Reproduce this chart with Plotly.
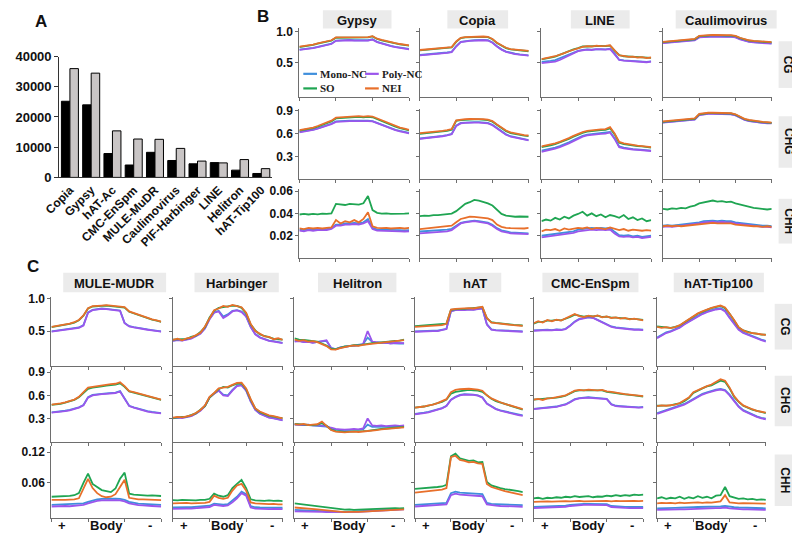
import plotly.graph_objects as go

# ---------------- DATA ----------------
# Panel A
TE_FAMILIES = ["Copia", "Gypsy", "hAT-Ac", "CMC-EnSpm", "MULE-MuDR", "Caulimovirus",
               "PIF-Harbinger", "LINE", "Helitron", "hAT-Tip100"]
COUNT_BLACK = [25200, 24000, 7900, 4100, 8300, 5600, 4500, 4900, 2400, 1300]
COUNT_GREY = [36000, 34500, 15400, 12700, 12600, 9600, 5400, 4800, 5900, 2900]

# profile bins (0-8 upstream "+", 8-16 body, 16-24 downstream "-")
BINS = [0, 1, 2, 3, 4, 5, 6, 7, 8, 9, 10, 11, 12, 13, 14, 15, 16, 17, 18, 19, 20, 21, 22, 23, 24]
SERIES = ["Mono-NC", "Poly-NC", "SO", "NEI"]
CONTEXTS = ["CG", "CHG", "CHH"]
B_FAMILIES = ["Gypsy", "Copia", "LINE", "Caulimovirus"]
C_FAMILIES = ["MULE-MUDR", "Harbinger", "Helitron", "hAT", "CMC-EnSpm", "hAT-Tip100"]
X_LABELS = ["+", "Body", "-"]

# ---- Gypsy
GYPSY_CG_MONO = [0.711,0.717,0.727,0.740,0.755,0.770,0.790,0.805,0.855,0.860,0.860,0.865,0.860,0.865,0.860,0.860,0.875,0.835,0.810,0.790,0.770,0.755,0.740,0.730,0.721]
GYPSY_CG_POLY = [0.706,0.712,0.722,0.735,0.750,0.765,0.785,0.800,0.850,0.855,0.855,0.860,0.855,0.860,0.855,0.855,0.870,0.830,0.805,0.785,0.765,0.750,0.735,0.725,0.716]
GYPSY_CG_SO = [0.752,0.760,0.773,0.785,0.805,0.820,0.840,0.855,0.900,0.900,0.905,0.900,0.905,0.900,0.905,0.905,0.920,0.880,0.860,0.840,0.825,0.810,0.795,0.785,0.775]
GYPSY_CG_NEI = [0.757,0.765,0.778,0.790,0.810,0.825,0.845,0.860,0.905,0.905,0.910,0.905,0.910,0.905,0.910,0.910,0.925,0.885,0.865,0.845,0.830,0.815,0.800,0.790,0.780]
GYPSY_CHG_MONO = [0.622,0.630,0.640,0.653,0.670,0.687,0.710,0.730,0.760,0.765,0.770,0.770,0.770,0.773,0.770,0.770,0.765,0.740,0.715,0.690,0.670,0.650,0.635,0.620,0.609]
GYPSY_CHG_POLY = [0.617,0.625,0.635,0.648,0.665,0.682,0.705,0.725,0.755,0.760,0.765,0.765,0.765,0.768,0.765,0.765,0.760,0.735,0.710,0.685,0.665,0.645,0.630,0.615,0.604]
GYPSY_CHG_SO = [0.640,0.648,0.660,0.672,0.690,0.710,0.735,0.760,0.800,0.805,0.810,0.815,0.815,0.820,0.815,0.820,0.815,0.790,0.765,0.735,0.710,0.690,0.672,0.657,0.643]
GYPSY_CHG_NEI = [0.646,0.655,0.668,0.680,0.700,0.720,0.745,0.770,0.810,0.815,0.820,0.825,0.825,0.830,0.825,0.830,0.825,0.800,0.775,0.745,0.720,0.700,0.680,0.665,0.650]
GYPSY_CHH_MONO = [0.0255,0.0250,0.0260,0.0255,0.0260,0.0258,0.0260,0.0270,0.0300,0.0300,0.0310,0.0310,0.0315,0.0310,0.0320,0.0350,0.0270,0.0255,0.0255,0.0250,0.0250,0.0252,0.0250,0.0248,0.0250]
GYPSY_CHH_POLY = [0.0245,0.0240,0.0250,0.0245,0.0250,0.0248,0.0250,0.0260,0.0290,0.0290,0.0300,0.0300,0.0305,0.0300,0.0310,0.0330,0.0260,0.0245,0.0245,0.0240,0.0240,0.0242,0.0240,0.0238,0.0240]
GYPSY_CHH_SO = [0.0390,0.0395,0.0390,0.0395,0.0392,0.0398,0.0395,0.0400,0.0485,0.0480,0.0475,0.0485,0.0480,0.0478,0.0490,0.0555,0.0430,0.0405,0.0398,0.0400,0.0395,0.0398,0.0395,0.0398,0.0400]
GYPSY_CHH_NEI = [0.0265,0.0260,0.0270,0.0265,0.0270,0.0265,0.0270,0.0275,0.0340,0.0310,0.0330,0.0320,0.0340,0.0320,0.0350,0.0410,0.0285,0.0270,0.0268,0.0270,0.0265,0.0268,0.0270,0.0265,0.0270]
# ---- Copia
COPIA_CG_MONO = [0.625,0.630,0.635,0.645,0.650,0.655,0.665,0.675,0.765,0.835,0.850,0.855,0.860,0.865,0.865,0.860,0.825,0.765,0.715,0.680,0.660,0.645,0.635,0.625,0.620]
COPIA_CG_POLY = [0.620,0.625,0.630,0.640,0.645,0.650,0.660,0.670,0.760,0.830,0.845,0.850,0.855,0.860,0.860,0.855,0.820,0.760,0.710,0.675,0.655,0.640,0.630,0.620,0.615]
COPIA_CG_SO = [0.700,0.705,0.710,0.715,0.720,0.725,0.730,0.745,0.835,0.895,0.905,0.910,0.915,0.915,0.915,0.910,0.875,0.815,0.770,0.735,0.715,0.705,0.695,0.690,0.685]
COPIA_CG_NEI = [0.705,0.710,0.715,0.720,0.725,0.730,0.735,0.750,0.840,0.900,0.910,0.915,0.920,0.920,0.920,0.915,0.880,0.820,0.775,0.740,0.720,0.710,0.700,0.695,0.690]
COPIA_CHG_MONO = [0.535,0.540,0.545,0.553,0.560,0.570,0.580,0.595,0.705,0.740,0.745,0.750,0.750,0.750,0.745,0.740,0.715,0.670,0.625,0.590,0.565,0.550,0.535,0.525,0.515]
COPIA_CHG_POLY = [0.530,0.535,0.540,0.548,0.555,0.565,0.575,0.590,0.700,0.735,0.740,0.745,0.745,0.745,0.740,0.735,0.710,0.665,0.620,0.585,0.560,0.545,0.530,0.520,0.510]
COPIA_CHG_SO = [0.597,0.602,0.607,0.612,0.622,0.627,0.637,0.652,0.767,0.777,0.782,0.787,0.787,0.787,0.782,0.777,0.757,0.712,0.672,0.632,0.607,0.592,0.582,0.572,0.567]
COPIA_CHG_NEI = [0.605,0.610,0.615,0.620,0.630,0.635,0.645,0.660,0.775,0.785,0.790,0.795,0.795,0.795,0.790,0.785,0.765,0.720,0.680,0.640,0.615,0.600,0.590,0.580,0.575]
COPIA_CHH_MONO = [0.0238,0.0240,0.0242,0.0245,0.0245,0.0250,0.0255,0.0262,0.0290,0.0315,0.0325,0.0330,0.0335,0.0330,0.0325,0.0318,0.0298,0.0268,0.0248,0.0238,0.0230,0.0228,0.0225,0.0225,0.0222]
COPIA_CHH_POLY = [0.0222,0.0225,0.0228,0.0230,0.0232,0.0235,0.0240,0.0250,0.0280,0.0310,0.0320,0.0325,0.0330,0.0325,0.0320,0.0310,0.0290,0.0260,0.0240,0.0230,0.0222,0.0220,0.0218,0.0215,0.0215]
COPIA_CHH_SO = [0.0375,0.0380,0.0378,0.0385,0.0385,0.0390,0.0392,0.0398,0.0420,0.0450,0.0485,0.0500,0.0520,0.0515,0.0505,0.0490,0.0470,0.0430,0.0395,0.0380,0.0375,0.0370,0.0372,0.0368,0.0370]
COPIA_CHH_NEI = [0.0260,0.0265,0.0270,0.0270,0.0275,0.0280,0.0285,0.0290,0.0320,0.0350,0.0360,0.0370,0.0368,0.0365,0.0360,0.0355,0.0340,0.0300,0.0280,0.0270,0.0268,0.0265,0.0268,0.0265,0.0270]
# ---- LINE
LINE_CG_MONO = [0.515,0.520,0.530,0.545,0.575,0.610,0.640,0.665,0.690,0.705,0.715,0.710,0.720,0.720,0.715,0.725,0.650,0.550,0.540,0.535,0.530,0.525,0.530,0.515,0.525]
LINE_CG_POLY = [0.495,0.500,0.510,0.520,0.545,0.580,0.620,0.650,0.685,0.700,0.710,0.705,0.720,0.715,0.710,0.720,0.640,0.545,0.535,0.530,0.525,0.520,0.525,0.510,0.520]
LINE_CG_SO = [0.555,0.575,0.585,0.600,0.630,0.650,0.680,0.715,0.735,0.760,0.760,0.765,0.770,0.770,0.765,0.775,0.695,0.625,0.605,0.600,0.595,0.590,0.585,0.580,0.580]
LINE_CG_NEI = [0.560,0.570,0.590,0.605,0.625,0.655,0.685,0.710,0.740,0.755,0.765,0.760,0.775,0.765,0.770,0.780,0.700,0.620,0.610,0.595,0.600,0.585,0.590,0.575,0.585]
LINE_CHG_MONO = [0.375,0.385,0.395,0.415,0.435,0.455,0.485,0.515,0.545,0.570,0.585,0.590,0.595,0.600,0.605,0.620,0.540,0.430,0.415,0.400,0.395,0.390,0.385,0.380,0.375]
LINE_CHG_POLY = [0.360,0.370,0.380,0.400,0.420,0.440,0.470,0.500,0.530,0.560,0.575,0.585,0.590,0.595,0.600,0.615,0.530,0.420,0.405,0.395,0.390,0.385,0.380,0.375,0.370]
LINE_CHG_SO = [0.420,0.430,0.445,0.460,0.480,0.505,0.530,0.560,0.590,0.610,0.625,0.635,0.640,0.645,0.650,0.670,0.590,0.480,0.460,0.450,0.440,0.435,0.430,0.420,0.415]
LINE_CHG_NEI = [0.430,0.440,0.450,0.470,0.490,0.510,0.540,0.570,0.600,0.620,0.635,0.645,0.650,0.655,0.660,0.685,0.600,0.490,0.470,0.455,0.450,0.440,0.435,0.430,0.420]
LINE_CHH_MONO = [0.0200,0.0205,0.0210,0.0215,0.0220,0.0225,0.0235,0.0240,0.0255,0.0260,0.0265,0.0270,0.0265,0.0270,0.0265,0.0270,0.0235,0.0205,0.0200,0.0205,0.0195,0.0200,0.0190,0.0195,0.0200]
LINE_CHH_POLY = [0.0185,0.0190,0.0195,0.0200,0.0205,0.0210,0.0220,0.0225,0.0240,0.0245,0.0250,0.0255,0.0250,0.0255,0.0250,0.0255,0.0220,0.0195,0.0190,0.0195,0.0185,0.0190,0.0180,0.0185,0.0190]
LINE_CHH_SO = [0.0330,0.0345,0.0335,0.0360,0.0345,0.0370,0.0355,0.0380,0.0395,0.0415,0.0380,0.0400,0.0375,0.0390,0.0365,0.0385,0.0375,0.0360,0.0385,0.0350,0.0365,0.0340,0.0355,0.0330,0.0340]
LINE_CHH_NEI = [0.0240,0.0255,0.0250,0.0260,0.0245,0.0265,0.0255,0.0260,0.0270,0.0265,0.0275,0.0260,0.0270,0.0265,0.0260,0.0275,0.0265,0.0250,0.0260,0.0245,0.0255,0.0250,0.0245,0.0250,0.0245]
# ---- Caulimovirus
CAUL_CG_MONO = [0.820,0.825,0.830,0.835,0.840,0.845,0.855,0.865,0.910,0.920,0.920,0.925,0.920,0.925,0.920,0.920,0.910,0.880,0.855,0.840,0.830,0.825,0.820,0.815,0.810]
CAUL_CG_POLY = [0.815,0.820,0.825,0.830,0.835,0.840,0.850,0.860,0.905,0.915,0.915,0.920,0.915,0.920,0.915,0.915,0.905,0.875,0.850,0.835,0.825,0.820,0.815,0.810,0.805]
CAUL_CG_SO = [0.830,0.835,0.840,0.845,0.850,0.855,0.865,0.875,0.925,0.935,0.935,0.940,0.935,0.940,0.935,0.935,0.925,0.895,0.870,0.855,0.845,0.840,0.835,0.830,0.825]
CAUL_CG_NEI = [0.835,0.840,0.845,0.850,0.855,0.860,0.870,0.880,0.930,0.940,0.940,0.945,0.940,0.945,0.940,0.940,0.930,0.900,0.875,0.860,0.850,0.845,0.840,0.835,0.830]
CAUL_CHG_MONO = [0.748,0.753,0.758,0.763,0.768,0.773,0.778,0.788,0.848,0.858,0.863,0.863,0.863,0.863,0.858,0.858,0.843,0.808,0.783,0.768,0.758,0.748,0.743,0.738,0.738]
CAUL_CHG_POLY = [0.745,0.750,0.755,0.760,0.765,0.770,0.775,0.785,0.845,0.855,0.860,0.860,0.860,0.860,0.855,0.855,0.840,0.805,0.780,0.765,0.755,0.745,0.740,0.735,0.735]
CAUL_CHG_SO = [0.755,0.760,0.765,0.770,0.775,0.780,0.785,0.795,0.855,0.865,0.870,0.870,0.870,0.870,0.865,0.865,0.850,0.815,0.790,0.775,0.765,0.755,0.750,0.745,0.740]
CAUL_CHG_NEI = [0.760,0.765,0.770,0.775,0.780,0.785,0.790,0.800,0.860,0.870,0.875,0.875,0.875,0.875,0.870,0.870,0.855,0.820,0.795,0.780,0.770,0.760,0.755,0.750,0.745]
CAUL_CHH_MONO = [0.0290,0.0295,0.0290,0.0295,0.0300,0.0300,0.0305,0.0310,0.0320,0.0330,0.0335,0.0335,0.0330,0.0335,0.0330,0.0330,0.0320,0.0315,0.0305,0.0300,0.0295,0.0295,0.0290,0.0290,0.0285]
CAUL_CHH_POLY = [0.0280,0.0285,0.0280,0.0285,0.0290,0.0290,0.0295,0.0300,0.0310,0.0320,0.0325,0.0325,0.0320,0.0325,0.0320,0.0320,0.0310,0.0305,0.0295,0.0290,0.0285,0.0285,0.0280,0.0280,0.0275]
CAUL_CHH_SO = [0.0440,0.0435,0.0445,0.0440,0.0450,0.0445,0.0460,0.0470,0.0490,0.0500,0.0510,0.0515,0.0505,0.0510,0.0500,0.0505,0.0490,0.0480,0.0465,0.0460,0.0450,0.0445,0.0440,0.0435,0.0440]
CAUL_CHH_NEI = [0.0285,0.0290,0.0285,0.0290,0.0285,0.0290,0.0295,0.0295,0.0300,0.0310,0.0310,0.0315,0.0310,0.0310,0.0305,0.0310,0.0300,0.0295,0.0290,0.0290,0.0285,0.0285,0.0280,0.0285,0.0280]
# ---- MULE-MUDR
MULE_CG_MONO = [0.495,0.505,0.510,0.515,0.525,0.535,0.555,0.590,0.785,0.825,0.840,0.845,0.840,0.835,0.825,0.815,0.625,0.575,0.560,0.545,0.535,0.525,0.515,0.505,0.495]
MULE_CG_POLY = [0.490,0.500,0.505,0.510,0.520,0.530,0.550,0.585,0.780,0.820,0.835,0.840,0.835,0.830,0.820,0.810,0.620,0.570,0.555,0.540,0.530,0.520,0.510,0.500,0.490]
MULE_CG_SO = [0.560,0.570,0.585,0.595,0.610,0.630,0.665,0.735,0.845,0.875,0.885,0.885,0.890,0.885,0.880,0.875,0.860,0.795,0.770,0.740,0.715,0.695,0.675,0.660,0.640]
MULE_CG_NEI = [0.565,0.575,0.590,0.600,0.615,0.635,0.670,0.740,0.850,0.880,0.890,0.890,0.895,0.890,0.885,0.880,0.865,0.800,0.775,0.745,0.720,0.700,0.680,0.665,0.645]
MULE_CHG_MONO = [0.380,0.385,0.390,0.400,0.410,0.425,0.445,0.475,0.575,0.605,0.615,0.620,0.625,0.630,0.635,0.655,0.555,0.465,0.445,0.425,0.405,0.395,0.385,0.375,0.370]
MULE_CHG_POLY = [0.375,0.380,0.385,0.395,0.405,0.420,0.440,0.470,0.570,0.600,0.610,0.615,0.620,0.625,0.630,0.650,0.550,0.460,0.440,0.420,0.400,0.390,0.380,0.370,0.365]
MULE_CHG_SO = [0.475,0.480,0.490,0.505,0.520,0.540,0.575,0.630,0.685,0.700,0.705,0.715,0.725,0.730,0.740,0.755,0.710,0.650,0.635,0.620,0.600,0.585,0.570,0.555,0.540]
MULE_CHG_NEI = [0.480,0.485,0.495,0.510,0.525,0.545,0.580,0.640,0.700,0.710,0.720,0.730,0.740,0.745,0.750,0.770,0.720,0.655,0.640,0.625,0.610,0.590,0.575,0.560,0.545]
MULE_CHH_MONO = [0.0170,0.0175,0.0170,0.0180,0.0175,0.0185,0.0190,0.0200,0.0230,0.0260,0.0280,0.0290,0.0295,0.0300,0.0295,0.0290,0.0270,0.0230,0.0210,0.0195,0.0190,0.0180,0.0180,0.0175,0.0170]
MULE_CHH_POLY = [0.0140,0.0145,0.0140,0.0150,0.0145,0.0155,0.0160,0.0170,0.0200,0.0230,0.0250,0.0260,0.0265,0.0270,0.0265,0.0260,0.0240,0.0200,0.0180,0.0165,0.0160,0.0150,0.0150,0.0145,0.0140]
MULE_CHH_SO = [0.0330,0.0335,0.0330,0.0340,0.0345,0.0360,0.0400,0.0600,0.0780,0.0580,0.0520,0.0460,0.0440,0.0420,0.0490,0.0680,0.0800,0.0390,0.0370,0.0360,0.0355,0.0350,0.0355,0.0350,0.0345]
MULE_CHH_NEI = [0.0270,0.0265,0.0270,0.0270,0.0275,0.0280,0.0300,0.0480,0.0680,0.0500,0.0400,0.0340,0.0320,0.0330,0.0380,0.0520,0.0660,0.0310,0.0290,0.0280,0.0280,0.0275,0.0270,0.0270,0.0265]
# ---- Harbinger
HARB_CG_MONO = [0.355,0.365,0.360,0.375,0.390,0.425,0.465,0.545,0.685,0.785,0.810,0.720,0.755,0.810,0.820,0.800,0.730,0.565,0.455,0.405,0.375,0.355,0.345,0.335,0.320]
HARB_CG_POLY = [0.350,0.360,0.355,0.370,0.385,0.420,0.460,0.540,0.680,0.780,0.800,0.700,0.740,0.800,0.815,0.790,0.720,0.560,0.450,0.400,0.370,0.350,0.340,0.330,0.315]
HARB_CG_SO = [0.370,0.375,0.370,0.380,0.410,0.430,0.485,0.560,0.710,0.810,0.855,0.870,0.880,0.890,0.885,0.855,0.770,0.600,0.510,0.450,0.425,0.400,0.385,0.375,0.370]
HARB_CG_NEI = [0.365,0.385,0.360,0.390,0.400,0.440,0.475,0.570,0.700,0.820,0.845,0.885,0.870,0.900,0.880,0.865,0.780,0.610,0.500,0.460,0.420,0.410,0.375,0.390,0.365]
HARB_CHG_MONO = [0.305,0.315,0.310,0.325,0.335,0.365,0.405,0.465,0.575,0.625,0.665,0.610,0.600,0.670,0.725,0.735,0.665,0.525,0.415,0.365,0.335,0.315,0.305,0.295,0.280]
HARB_CHG_POLY = [0.300,0.310,0.305,0.320,0.330,0.360,0.400,0.460,0.570,0.620,0.660,0.600,0.590,0.660,0.720,0.730,0.660,0.520,0.410,0.360,0.330,0.310,0.300,0.290,0.275]
HARB_CHG_SO = [0.305,0.315,0.320,0.325,0.345,0.365,0.415,0.460,0.570,0.620,0.680,0.710,0.700,0.730,0.750,0.755,0.680,0.540,0.430,0.380,0.355,0.335,0.325,0.310,0.305]
HARB_CHG_NEI = [0.310,0.320,0.315,0.330,0.340,0.370,0.410,0.470,0.580,0.630,0.690,0.700,0.710,0.735,0.760,0.765,0.690,0.550,0.430,0.390,0.360,0.340,0.330,0.315,0.300]
HARB_CHH_MONO = [0.0120,0.0125,0.0120,0.0125,0.0125,0.0130,0.0135,0.0140,0.0155,0.0195,0.0185,0.0175,0.0185,0.0250,0.0330,0.0430,0.0380,0.0145,0.0125,0.0120,0.0120,0.0115,0.0120,0.0115,0.0115]
HARB_CHH_POLY = [0.0095,0.0100,0.0095,0.0100,0.0100,0.0105,0.0110,0.0115,0.0130,0.0170,0.0160,0.0150,0.0160,0.0220,0.0300,0.0400,0.0350,0.0120,0.0100,0.0095,0.0095,0.0090,0.0095,0.0090,0.0090]
HARB_CHH_SO = [0.0265,0.0260,0.0270,0.0265,0.0270,0.0260,0.0270,0.0270,0.0290,0.0390,0.0350,0.0330,0.0360,0.0500,0.0580,0.0660,0.0500,0.0280,0.0260,0.0255,0.0250,0.0260,0.0250,0.0255,0.0245]
HARB_CHH_NEI = [0.0200,0.0205,0.0200,0.0210,0.0200,0.0205,0.0210,0.0210,0.0230,0.0350,0.0310,0.0290,0.0310,0.0450,0.0550,0.0580,0.0450,0.0220,0.0200,0.0190,0.0190,0.0185,0.0190,0.0180,0.0180]
# ---- Helitron
HELI_CG_MONO = [0.345,0.350,0.335,0.340,0.325,0.335,0.345,0.350,0.245,0.225,0.250,0.265,0.275,0.280,0.285,0.300,0.400,0.335,0.325,0.320,0.320,0.315,0.315,0.310,0.310]
HELI_CG_POLY = [0.340,0.345,0.330,0.335,0.320,0.330,0.350,0.360,0.240,0.220,0.245,0.260,0.270,0.275,0.280,0.300,0.500,0.340,0.330,0.320,0.325,0.310,0.320,0.315,0.315]
HELI_CG_SO = [0.390,0.370,0.365,0.355,0.350,0.340,0.310,0.280,0.230,0.225,0.245,0.265,0.270,0.285,0.280,0.295,0.305,0.315,0.320,0.330,0.340,0.345,0.350,0.355,0.370]
HELI_CG_NEI = [0.370,0.350,0.360,0.340,0.345,0.330,0.300,0.270,0.220,0.215,0.240,0.260,0.270,0.280,0.275,0.290,0.300,0.310,0.320,0.325,0.335,0.340,0.345,0.350,0.360]
HELI_CHG_MONO = [0.220,0.215,0.215,0.215,0.210,0.210,0.205,0.195,0.170,0.155,0.150,0.150,0.155,0.155,0.155,0.160,0.220,0.190,0.190,0.190,0.190,0.195,0.195,0.195,0.200]
HELI_CHG_POLY = [0.225,0.220,0.215,0.220,0.210,0.215,0.210,0.200,0.180,0.165,0.160,0.155,0.160,0.165,0.160,0.170,0.300,0.210,0.205,0.210,0.200,0.205,0.210,0.205,0.210]
HELI_CHG_SO = [0.230,0.225,0.220,0.220,0.215,0.220,0.240,0.205,0.155,0.135,0.130,0.125,0.130,0.130,0.130,0.135,0.140,0.150,0.155,0.165,0.170,0.175,0.180,0.185,0.190]
HELI_CHG_NEI = [0.225,0.220,0.230,0.215,0.220,0.225,0.260,0.210,0.150,0.130,0.125,0.120,0.125,0.130,0.125,0.130,0.135,0.145,0.150,0.160,0.165,0.170,0.175,0.180,0.185]
HELI_CHH_MONO = [0.0075,0.0070,0.0065,0.0060,0.0060,0.0055,0.0050,0.0045,0.0040,0.0035,0.0035,0.0035,0.0040,0.0040,0.0045,0.0050,0.0055,0.0060,0.0065,0.0070,0.0075,0.0080,0.0085,0.0090,0.0095]
HELI_CHH_POLY = [0.0045,0.0045,0.0040,0.0040,0.0035,0.0035,0.0035,0.0030,0.0030,0.0025,0.0025,0.0025,0.0030,0.0030,0.0035,0.0040,0.0045,0.0050,0.0055,0.0060,0.0065,0.0070,0.0075,0.0080,0.0085]
HELI_CHH_SO = [0.0200,0.0190,0.0180,0.0170,0.0155,0.0140,0.0130,0.0120,0.0110,0.0095,0.0090,0.0080,0.0085,0.0075,0.0080,0.0085,0.0090,0.0095,0.0100,0.0095,0.0100,0.0105,0.0110,0.0105,0.0110]
HELI_CHH_NEI = [0.0120,0.0115,0.0110,0.0100,0.0095,0.0085,0.0075,0.0065,0.0050,0.0040,0.0035,0.0030,0.0035,0.0030,0.0035,0.0040,0.0045,0.0050,0.0055,0.0060,0.0065,0.0070,0.0075,0.0080,0.0085]
# ---- hAT
HAT_CG_MONO = [0.495,0.500,0.495,0.500,0.505,0.505,0.515,0.535,0.805,0.825,0.830,0.825,0.835,0.830,0.840,0.850,0.605,0.525,0.515,0.510,0.505,0.505,0.500,0.500,0.495]
HAT_CG_POLY = [0.490,0.495,0.490,0.495,0.500,0.500,0.510,0.530,0.800,0.820,0.825,0.820,0.830,0.825,0.835,0.845,0.600,0.520,0.510,0.505,0.500,0.500,0.495,0.495,0.490]
HAT_CG_SO = [0.575,0.580,0.585,0.585,0.590,0.595,0.600,0.615,0.825,0.835,0.840,0.840,0.845,0.845,0.850,0.865,0.695,0.635,0.625,0.615,0.605,0.600,0.595,0.590,0.585]
HAT_CG_NEI = [0.565,0.570,0.575,0.575,0.580,0.585,0.590,0.610,0.830,0.840,0.845,0.840,0.850,0.845,0.855,0.870,0.700,0.630,0.620,0.610,0.600,0.595,0.590,0.585,0.580]
HAT_CHG_MONO = [0.360,0.365,0.375,0.385,0.400,0.415,0.435,0.465,0.545,0.580,0.605,0.615,0.615,0.610,0.600,0.575,0.495,0.455,0.425,0.405,0.390,0.375,0.360,0.350,0.340]
HAT_CHG_POLY = [0.355,0.360,0.370,0.380,0.395,0.410,0.430,0.460,0.540,0.575,0.600,0.610,0.610,0.605,0.595,0.570,0.490,0.450,0.420,0.400,0.385,0.370,0.355,0.345,0.335]
HAT_CHG_SO = [0.440,0.445,0.455,0.465,0.480,0.495,0.515,0.545,0.620,0.645,0.655,0.665,0.670,0.665,0.660,0.645,0.595,0.555,0.525,0.505,0.485,0.465,0.450,0.435,0.415]
HAT_CHG_NEI = [0.440,0.445,0.455,0.470,0.480,0.500,0.520,0.550,0.640,0.670,0.680,0.685,0.685,0.680,0.675,0.660,0.600,0.560,0.530,0.510,0.490,0.470,0.455,0.440,0.420]
HAT_CHH_MONO = [0.0170,0.0175,0.0180,0.0180,0.0185,0.0190,0.0200,0.0210,0.0400,0.0430,0.0410,0.0405,0.0400,0.0395,0.0390,0.0380,0.0210,0.0190,0.0185,0.0180,0.0180,0.0175,0.0170,0.0170,0.0165]
HAT_CHH_POLY = [0.0140,0.0145,0.0150,0.0150,0.0155,0.0160,0.0170,0.0180,0.0360,0.0390,0.0370,0.0365,0.0360,0.0355,0.0350,0.0340,0.0180,0.0160,0.0155,0.0150,0.0150,0.0145,0.0140,0.0140,0.0135]
HAT_CHH_SO = [0.0485,0.0490,0.0500,0.0500,0.0510,0.0520,0.0530,0.0560,0.1120,0.1170,0.1080,0.1060,0.1030,0.1040,0.1000,0.1010,0.0620,0.0550,0.0520,0.0500,0.0480,0.0470,0.0450,0.0440,0.0420]
HAT_CHH_NEI = [0.0410,0.0420,0.0425,0.0435,0.0440,0.0450,0.0470,0.0500,0.1100,0.1130,0.1050,0.1030,0.1000,0.1010,0.0980,0.0970,0.0580,0.0520,0.0490,0.0460,0.0440,0.0420,0.0400,0.0380,0.0360]
# ---- CMC-EnSpm
CMC_CG_MONO = [0.510,0.515,0.510,0.520,0.515,0.525,0.520,0.535,0.585,0.645,0.685,0.705,0.715,0.705,0.670,0.635,0.595,0.570,0.555,0.545,0.540,0.530,0.525,0.525,0.520]
CMC_CG_POLY = [0.505,0.510,0.505,0.515,0.510,0.520,0.515,0.530,0.580,0.640,0.680,0.700,0.710,0.700,0.665,0.630,0.590,0.565,0.550,0.540,0.535,0.525,0.520,0.520,0.515]
CMC_CG_SO = [0.615,0.640,0.640,0.660,0.660,0.670,0.665,0.685,0.715,0.750,0.735,0.720,0.730,0.725,0.735,0.715,0.720,0.705,0.705,0.695,0.695,0.685,0.685,0.675,0.670]
CMC_CG_NEI = [0.620,0.650,0.630,0.670,0.650,0.675,0.660,0.690,0.720,0.760,0.730,0.715,0.735,0.720,0.740,0.710,0.725,0.700,0.710,0.690,0.700,0.680,0.690,0.675,0.665]
CMC_CHG_MONO = [0.425,0.430,0.435,0.440,0.445,0.455,0.470,0.485,0.515,0.550,0.565,0.570,0.575,0.570,0.565,0.565,0.555,0.485,0.465,0.460,0.455,0.450,0.445,0.445,0.450]
CMC_CHG_POLY = [0.420,0.425,0.430,0.435,0.440,0.450,0.465,0.480,0.510,0.545,0.560,0.565,0.570,0.565,0.560,0.560,0.550,0.480,0.460,0.455,0.450,0.445,0.440,0.440,0.445]
CMC_CHG_SO = [0.545,0.550,0.550,0.555,0.565,0.570,0.580,0.595,0.625,0.655,0.665,0.665,0.670,0.665,0.665,0.665,0.645,0.640,0.630,0.620,0.610,0.605,0.600,0.590,0.585]
CMC_CHG_NEI = [0.545,0.555,0.540,0.560,0.565,0.575,0.585,0.600,0.630,0.660,0.670,0.665,0.675,0.670,0.665,0.670,0.650,0.645,0.630,0.625,0.615,0.610,0.600,0.595,0.590]
CMC_CHH_MONO = [0.0130,0.0133,0.0135,0.0140,0.0140,0.0145,0.0150,0.0155,0.0170,0.0180,0.0185,0.0190,0.0190,0.0188,0.0185,0.0190,0.0185,0.0150,0.0140,0.0135,0.0132,0.0130,0.0130,0.0128,0.0130]
CMC_CHH_POLY = [0.0110,0.0112,0.0115,0.0120,0.0120,0.0125,0.0130,0.0135,0.0150,0.0160,0.0165,0.0170,0.0170,0.0168,0.0165,0.0170,0.0165,0.0130,0.0120,0.0115,0.0112,0.0110,0.0110,0.0108,0.0110]
CMC_CHH_SO = [0.0300,0.0310,0.0290,0.0310,0.0305,0.0320,0.0310,0.0330,0.0320,0.0340,0.0325,0.0330,0.0340,0.0320,0.0335,0.0330,0.0350,0.0340,0.0360,0.0345,0.0360,0.0350,0.0370,0.0360,0.0370]
CMC_CHH_NEI = [0.0230,0.0235,0.0230,0.0240,0.0235,0.0240,0.0240,0.0245,0.0240,0.0245,0.0250,0.0240,0.0245,0.0240,0.0250,0.0245,0.0250,0.0240,0.0250,0.0245,0.0250,0.0245,0.0250,0.0245,0.0250]
# ---- hAT-Tip100
TIP_CG_MONO = [0.400,0.440,0.480,0.500,0.525,0.560,0.610,0.650,0.700,0.740,0.770,0.800,0.825,0.840,0.850,0.810,0.710,0.620,0.530,0.480,0.450,0.420,0.390,0.370,0.350]
TIP_CG_POLY = [0.390,0.430,0.470,0.490,0.515,0.550,0.600,0.640,0.690,0.730,0.760,0.790,0.815,0.830,0.840,0.800,0.700,0.610,0.520,0.470,0.440,0.410,0.380,0.360,0.340]
TIP_CG_SO = [0.570,0.560,0.550,0.550,0.565,0.585,0.630,0.670,0.720,0.765,0.800,0.825,0.850,0.870,0.885,0.850,0.765,0.660,0.555,0.510,0.485,0.470,0.460,0.445,0.445]
TIP_CG_NEI = [0.565,0.550,0.560,0.545,0.560,0.590,0.635,0.680,0.730,0.770,0.800,0.830,0.855,0.875,0.890,0.860,0.770,0.670,0.560,0.510,0.480,0.470,0.460,0.450,0.440]
TIP_CHG_MONO = [0.368,0.388,0.408,0.423,0.438,0.458,0.488,0.518,0.553,0.588,0.618,0.638,0.658,0.673,0.683,0.668,0.608,0.528,0.458,0.408,0.378,0.348,0.328,0.308,0.298]
TIP_CHG_POLY = [0.360,0.380,0.400,0.415,0.430,0.450,0.480,0.510,0.545,0.580,0.610,0.630,0.650,0.665,0.675,0.660,0.600,0.520,0.450,0.400,0.370,0.340,0.320,0.300,0.290]
TIP_CHG_SO = [0.465,0.465,0.470,0.470,0.485,0.495,0.525,0.565,0.630,0.665,0.690,0.715,0.730,0.760,0.790,0.775,0.690,0.580,0.515,0.465,0.435,0.415,0.400,0.385,0.370]
TIP_CHG_NEI = [0.460,0.470,0.465,0.475,0.480,0.500,0.530,0.570,0.640,0.670,0.700,0.720,0.740,0.770,0.810,0.790,0.700,0.590,0.520,0.470,0.440,0.420,0.400,0.390,0.375]
TIP_CHH_MONO = [0.0105,0.0110,0.0108,0.0110,0.0112,0.0115,0.0115,0.0120,0.0125,0.0130,0.0130,0.0135,0.0135,0.0140,0.0140,0.0150,0.0135,0.0125,0.0120,0.0115,0.0112,0.0110,0.0110,0.0108,0.0105]
TIP_CHH_POLY = [0.0075,0.0080,0.0078,0.0080,0.0082,0.0085,0.0085,0.0090,0.0095,0.0100,0.0100,0.0105,0.0105,0.0110,0.0110,0.0120,0.0105,0.0095,0.0090,0.0085,0.0082,0.0080,0.0080,0.0078,0.0075]
TIP_CHH_SO = [0.0300,0.0320,0.0290,0.0310,0.0300,0.0330,0.0290,0.0320,0.0300,0.0340,0.0310,0.0330,0.0300,0.0350,0.0360,0.0520,0.0340,0.0310,0.0290,0.0300,0.0280,0.0290,0.0270,0.0280,0.0270]
TIP_CHH_NEI = [0.0200,0.0210,0.0205,0.0210,0.0200,0.0215,0.0205,0.0210,0.0210,0.0220,0.0210,0.0220,0.0215,0.0230,0.0240,0.0360,0.0220,0.0210,0.0200,0.0205,0.0200,0.0200,0.0195,0.0200,0.0195]

PROFILES = {
    "Gypsy": {"CG": [GYPSY_CG_MONO, GYPSY_CG_POLY, GYPSY_CG_SO, GYPSY_CG_NEI],
              "CHG": [GYPSY_CHG_MONO, GYPSY_CHG_POLY, GYPSY_CHG_SO, GYPSY_CHG_NEI],
              "CHH": [GYPSY_CHH_MONO, GYPSY_CHH_POLY, GYPSY_CHH_SO, GYPSY_CHH_NEI]},
    "Copia": {"CG": [COPIA_CG_MONO, COPIA_CG_POLY, COPIA_CG_SO, COPIA_CG_NEI],
              "CHG": [COPIA_CHG_MONO, COPIA_CHG_POLY, COPIA_CHG_SO, COPIA_CHG_NEI],
              "CHH": [COPIA_CHH_MONO, COPIA_CHH_POLY, COPIA_CHH_SO, COPIA_CHH_NEI]},
    "LINE": {"CG": [LINE_CG_MONO, LINE_CG_POLY, LINE_CG_SO, LINE_CG_NEI],
             "CHG": [LINE_CHG_MONO, LINE_CHG_POLY, LINE_CHG_SO, LINE_CHG_NEI],
             "CHH": [LINE_CHH_MONO, LINE_CHH_POLY, LINE_CHH_SO, LINE_CHH_NEI]},
    "Caulimovirus": {"CG": [CAUL_CG_MONO, CAUL_CG_POLY, CAUL_CG_SO, CAUL_CG_NEI],
                     "CHG": [CAUL_CHG_MONO, CAUL_CHG_POLY, CAUL_CHG_SO, CAUL_CHG_NEI],
                     "CHH": [CAUL_CHH_MONO, CAUL_CHH_POLY, CAUL_CHH_SO, CAUL_CHH_NEI]},
    "MULE-MUDR": {"CG": [MULE_CG_MONO, MULE_CG_POLY, MULE_CG_SO, MULE_CG_NEI],
                  "CHG": [MULE_CHG_MONO, MULE_CHG_POLY, MULE_CHG_SO, MULE_CHG_NEI],
                  "CHH": [MULE_CHH_MONO, MULE_CHH_POLY, MULE_CHH_SO, MULE_CHH_NEI]},
    "Harbinger": {"CG": [HARB_CG_MONO, HARB_CG_POLY, HARB_CG_SO, HARB_CG_NEI],
                  "CHG": [HARB_CHG_MONO, HARB_CHG_POLY, HARB_CHG_SO, HARB_CHG_NEI],
                  "CHH": [HARB_CHH_MONO, HARB_CHH_POLY, HARB_CHH_SO, HARB_CHH_NEI]},
    "Helitron": {"CG": [HELI_CG_MONO, HELI_CG_POLY, HELI_CG_SO, HELI_CG_NEI],
                 "CHG": [HELI_CHG_MONO, HELI_CHG_POLY, HELI_CHG_SO, HELI_CHG_NEI],
                 "CHH": [HELI_CHH_MONO, HELI_CHH_POLY, HELI_CHH_SO, HELI_CHH_NEI]},
    "hAT": {"CG": [HAT_CG_MONO, HAT_CG_POLY, HAT_CG_SO, HAT_CG_NEI],
            "CHG": [HAT_CHG_MONO, HAT_CHG_POLY, HAT_CHG_SO, HAT_CHG_NEI],
            "CHH": [HAT_CHH_MONO, HAT_CHH_POLY, HAT_CHH_SO, HAT_CHH_NEI]},
    "CMC-EnSpm": {"CG": [CMC_CG_MONO, CMC_CG_POLY, CMC_CG_SO, CMC_CG_NEI],
                  "CHG": [CMC_CHG_MONO, CMC_CHG_POLY, CMC_CHG_SO, CMC_CHG_NEI],
                  "CHH": [CMC_CHH_MONO, CMC_CHH_POLY, CMC_CHH_SO, CMC_CHH_NEI]},
    "hAT-Tip100": {"CG": [TIP_CG_MONO, TIP_CG_POLY, TIP_CG_SO, TIP_CG_NEI],
                   "CHG": [TIP_CHG_MONO, TIP_CHG_POLY, TIP_CHG_SO, TIP_CHG_NEI],
                   "CHH": [TIP_CHH_MONO, TIP_CHH_POLY, TIP_CHH_SO, TIP_CHH_NEI]},
}

# ---------------- STYLE / LAYOUT ----------------
W, H = 800, 545
OFF = 8  # the page body offsets the figure by 8px; layout positions below are page pixels
FONT = "Liberation Sans, Arial, sans-serif"
SERIF = "Liberation Serif, Times New Roman, serif"
COLORS = {"Mono-NC": "#3f8fdc", "Poly-NC": "#9b55ec", "SO": "#1fa552", "NEI": "#e86f2a"}
DRAW_ORDER = [0, 1, 2, 3]
AXCOL = "#6e6e6e"
STRIP = "#ebebeb"


def px(x):
    return (x - OFF) / W


def py(y):
    return 1 - (y - OFF) / H


fig = go.Figure()
layout = {}
shapes = []
annotations = []
count = [0]


def new_axes(xdom, ydom, xcfg, ycfg):
    count[0] += 1
    k = count[0]
    xn = "xaxis" if k == 1 else f"xaxis{k}"
    yn = "yaxis" if k == 1 else f"yaxis{k}"
    xr = "x" if k == 1 else f"x{k}"
    yr = "y" if k == 1 else f"y{k}"
    layout[xn] = dict(domain=[px(xdom[0]), px(xdom[1])], anchor=yr, **xcfg)
    layout[yn] = dict(domain=[py(ydom[1]), py(ydom[0])], anchor=xr, **ycfg)
    return xr, yr


def text(x, y, s, size, family=FONT, angle=0, xanchor="center", color="#111"):
    annotations.append(dict(x=px(x), y=py(y), xref="paper", yref="paper", text=s,
                            showarrow=False, textangle=angle, xanchor=xanchor, yanchor="middle",
                            font=dict(family=family, size=size, color=color, weight="bold")))


def box(x0, y0, x1, y1):
    shapes.append(dict(type="rect", xref="paper", yref="paper", x0=px(x0), x1=px(x1),
                       y0=py(y1), y1=py(y0), fillcolor=STRIP, line=dict(width=0), layer="below"))


# ---- Panel A
xa, ya = new_axes((44, 261), (50.7, 175),
                  dict(type="category", showline=True, linecolor="#333", linewidth=1.2,
                       ticks="", tickangle=-45, showgrid=False, zeroline=False,
                       tickfont=dict(family=FONT, size=12, color="#111", weight="bold")),
                  dict(range=[0, 40000], tickvals=[0, 10000, 20000, 30000, 40000],
                       tickformat="d",
                       showline=True, linecolor="#333", linewidth=1.2, ticks="outside",
                       ticklen=4, tickcolor="#333", showgrid=False, zeroline=False,
                       tickfont=dict(family=FONT, size=13, color="#111", weight="bold")))
fig.add_trace(go.Bar(x=TE_FAMILIES, y=COUNT_BLACK, xaxis=xa, yaxis=ya,
                     marker=dict(color="#000000", line=dict(color="#000", width=1))))
fig.add_trace(go.Bar(x=TE_FAMILIES, y=COUNT_GREY, xaxis=xa, yaxis=ya,
                     marker=dict(color="#c9c5c5", line=dict(color="#000", width=1))))
text(25, 15, "A", 17)

# ---- row configs
B_COLS = [(289, 401), (412, 523), (536, 648), (660, 771)]
B_ROWS = [(21.7, 92.7), (105, 176.7), (186.7, 258)]
B_Y = [dict(range=[-0.05, 1.05], tickvals=[0.5, 1.0], ticktext=["0.5", "1.0"]),
       dict(range=[0, 0.92], tickvals=[0.3, 0.6, 0.9], ticktext=["0.3", "0.6", "0.9"]),
       dict(range=[0, 0.062], tickvals=[0.02, 0.04, 0.06], ticktext=["0.02", "0.04", "0.06"])]
B_HEAD = [(313, 383), (440, 502), (566, 626), (673, 776)]

C_COLS = [(36, 148), (160, 272), (284, 396), (407, 517), (528, 640), (654, 765)]
C_ROWS = [(297.7, 369), (373.3, 446.7), (451.7, 525)]
C_Y = [dict(range=[-0.035, 1.025], tickvals=[0.5, 1.0], ticktext=["0.5", "1.0"]),
       dict(range=[0, 0.925], tickvals=[0.3, 0.6, 0.9], ticktext=["0.3", "0.6", "0.9"]),
       dict(range=[-0.008, 0.131], tickvals=[0.06, 0.12], ticktext=["0.06", "0.12"])]
C_HEAD = [(48, 153), (182, 268), (308, 388), (442, 495), (537, 635), (671, 763)]


def profile_grid(families, cols, rows, ycfgs, heads, head_y, strip_x, strip_rows):
    for ci, fam in enumerate(families):
        for ri, ctx in enumerate(CONTEXTS):
            ycfg = dict(ycfgs[ri])
            xr, yr = new_axes(cols[ci], rows[ri],
                              dict(range=[0, 24], tickvals=[0, 8, 16, 24], showticklabels=False,
                                   ticks="outside", ticklen=3, tickcolor=AXCOL, showline=True,
                                   linecolor=AXCOL, linewidth=1.2, showgrid=False, zeroline=False),
                              dict(showline=True, linecolor=AXCOL, linewidth=1.2, ticks="outside",
                                   ticklen=3, tickcolor=AXCOL, showgrid=False, zeroline=False,
                                   showticklabels=(ci == 0),
                                   tickfont=dict(family=FONT, size=12, color="#111", weight="bold"),
                                   **ycfg))
            vals = PROFILES[fam][ctx]
            for si in DRAW_ORDER:
                name = SERIES[si]
                fig.add_trace(go.Scatter(x=BINS, y=vals[si], mode="lines", xaxis=xr, yaxis=yr,
                                         line=dict(color=COLORS[name], width=1.8),
                                         name=name, showlegend=False))
        x0, x1 = heads[ci]
        box(x0, head_y[0], x1, head_y[1])
        text((x0 + x1) / 2, (head_y[0] + head_y[1]) / 2 + 1, fam, 13)
    for ri, ctx in enumerate(CONTEXTS):
        y0, y1 = strip_rows[ri]
        box(strip_x[0], y0, strip_x[1], y1)
        text((strip_x[0] + strip_x[1]) / 2 + 1, (y0 + y1) / 2, ctx, 12, angle=90)


profile_grid(B_FAMILIES, B_COLS, B_ROWS, B_Y, B_HEAD, (3, 22), (778, 797),
             [(35, 83), (112, 165), (197, 243)])
text(252, 10, "B", 17)

profile_grid(C_FAMILIES, C_COLS, C_ROWS, C_Y, C_HEAD, (273, 293), (774, 793),
             [(305, 352), (379, 431), (460, 513)])
text(17, 267, "C", 17)

# x labels under the C panels
for (x0, x1) in C_COLS:
    w = x1 - x0
    for frac, lab in zip([0.1, 0.5, 0.9], X_LABELS):
        text(x0 + frac * w, 533, lab, 13)

# legend inside Gypsy CG panel
LEG = [("Mono-NC", 293, 68.5), ("Poly-NC", 356, 68.5), ("SO", 293, 83.5), ("NEI", 356, 83.5)]
for name, lx, ly in LEG:
    shapes.append(dict(type="line", xref="paper", yref="paper", x0=px(lx), x1=px(lx + 14),
                       y0=py(ly), y1=py(ly), line=dict(color=COLORS[name], width=2.2)))
    text(lx + 15, ly, name, 11, family=SERIF, xanchor="left", color="#222")

fig.update_layout(width=W, height=H, margin=dict(l=0, r=0, t=0, b=0),
                  paper_bgcolor="white", plot_bgcolor="white", showlegend=False,
                  barmode="group", bargap=0.2, bargroupgap=0.0,
                  shapes=shapes, annotations=annotations, **layout)
fig.write_html("out.html")
